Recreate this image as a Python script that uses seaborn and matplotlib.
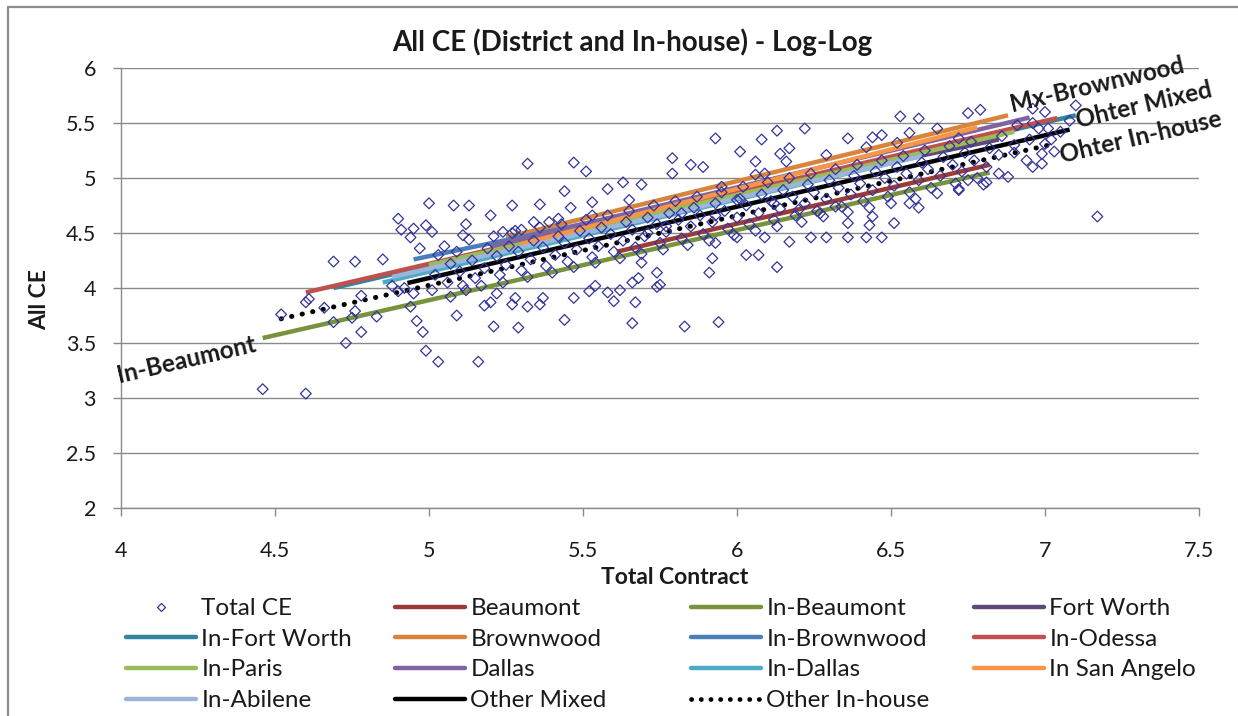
import matplotlib
matplotlib.use("Agg")
import matplotlib.pyplot as plt
from matplotlib.lines import Line2D
import seaborn as sns
import pandas as pd

# ---------------------------------------------------------------- data
# Observed projects: log10(total contract) vs log10(all CE)
total_contract = [
    4.46, 4.60, 4.52, 4.60, 4.61, 4.66, 4.69, 4.73, 4.75, 4.76, 4.78, 4.78, 4.83, 4.88,
    4.90, 4.92, 4.94, 4.95, 4.96, 4.98, 4.99, 5.03, 5.16, 5.09, 5.07, 5.12, 5.18, 5.20,
    5.21, 5.22, 5.27, 5.29, 5.28, 5.32, 5.36, 5.37, 5.44, 5.47, 5.52, 5.54, 5.58, 5.60,
    5.67, 5.66, 5.74, 5.83, 5.94,
    4.69, 4.76, 4.85, 4.90, 4.91, 4.94, 4.95, 4.99, 5.00, 5.01, 5.08, 5.13, 5.20, 5.27,
    5.32, 5.47, 5.51, 5.44, 5.53, 5.58, 5.36, 5.46, 4.97, 5.12, 5.11, 5.24, 5.27, 5.30,
    5.34, 5.39, 5.42, 5.53,
    5.93, 6.22, 6.13, 6.08, 6.53, 6.59, 6.75, 6.79, 7.10, 6.96, 7.17, 5.79, 5.85, 5.89,
    6.01, 6.06, 6.14, 6.17, 6.36, 6.44, 6.47, 6.56, 6.65, 6.85, 6.88, 6.96, 6.99, 7.03,
    6.99,
    6.42, 6.47, 6.36, 6.29, 6.24, 6.17, 6.13, 6.07, 6.03, 5.92, 5.91, 5.75, 5.68, 5.66,
    5.62, 5.93, 6.00, 6.09, 6.81, 6.72, 6.75, 6.56, 6.59, 6.51, 6.44, 6.43, 6.36, 6.32,
    6.27, 6.20, 6.12, 6.00, 5.93, 5.82, 5.77, 5.71, 5.69, 5.74, 5.63, 5.69, 5.65, 5.79,
    5.95, 6.06, 6.09, 6.16, 6.29, 6.42, 6.52, 6.72, 6.90, 6.94,
    7.02, 7.05, 7.08, 6.98, 7.00,
    5.02, 5.03, 5.01, 5.06, 5.07, 5.05, 5.10, 5.11, 5.09, 5.14, 5.15, 5.13, 5.18, 5.19,
    5.17, 5.22, 5.23, 5.21, 5.25, 5.26, 5.24, 5.29, 5.30, 5.28, 5.33, 5.34, 5.32, 5.37,
    5.38, 5.36, 5.41, 5.42, 5.40, 5.44, 5.45, 5.43, 5.48, 5.49, 5.47, 5.52, 5.53, 5.51,
    5.55, 5.56, 5.54, 5.59, 5.60, 5.58, 5.63, 5.64, 5.62, 5.66, 5.67, 5.65, 5.70, 5.71,
    5.69, 5.74, 5.75, 5.73, 5.77, 5.78, 5.76, 5.81, 5.82, 5.80, 5.85, 5.86, 5.84, 5.88,
    5.89, 5.87, 5.92, 5.93, 5.91, 5.96, 5.97, 5.95, 6.00, 6.01, 5.99, 6.03, 6.04, 6.02,
    6.07, 6.08, 6.06, 6.11, 6.12, 6.10, 6.14, 6.15, 6.13, 6.18, 6.19, 6.17, 6.22, 6.23,
    6.21, 6.25, 6.26, 6.24, 6.29, 6.30, 6.28, 6.33, 6.34, 6.32, 6.37, 6.38, 6.36, 6.40,
    6.41, 6.39, 6.44, 6.45, 6.43, 6.48, 6.49, 6.47, 6.51, 6.52, 6.50, 6.55, 6.56, 6.54,
    6.59, 6.60, 6.58, 6.62, 6.63, 6.61, 6.66, 6.67, 6.65, 6.70, 6.71, 6.69, 6.73, 6.74,
    6.72, 6.77, 6.78, 6.76, 6.81, 6.82, 6.80, 6.85, 6.86, 6.90, 6.91, 6.95, 6.96, 7.00,
    7.01,
]
total_ce = [
    3.08, 3.04, 3.76, 3.87, 3.90, 3.82, 3.69, 3.50, 3.73, 3.79, 3.60, 3.93, 3.74, 4.02,
    3.97, 4.00, 3.83, 3.95, 3.70, 3.60, 3.43, 3.33, 3.33, 3.75, 3.92, 3.98, 3.84, 3.87,
    3.65, 3.95, 3.85, 3.64, 3.91, 3.83, 3.85, 3.91, 3.71, 3.91, 3.97, 4.02, 3.96, 3.88,
    3.87, 3.68, 4.01, 3.65, 3.69,
    4.24, 4.24, 4.26, 4.63, 4.53, 4.46, 4.54, 4.57, 4.77, 4.51, 4.75, 4.75, 4.66, 4.75,
    5.13, 5.14, 5.06, 4.88, 4.78, 4.90, 4.76, 4.73, 4.36, 4.58, 4.48, 4.51, 4.50, 4.53,
    4.60, 4.60, 4.63, 4.66,
    5.36, 5.45, 5.43, 5.35, 5.56, 5.54, 5.59, 5.62, 5.66, 5.63, 4.65, 5.18, 5.12, 5.10,
    5.24, 5.15, 5.22, 5.27, 5.36, 5.37, 5.39, 5.41, 5.45, 5.04, 5.01, 5.10, 5.13, 5.24,
    5.22,
    4.46, 4.46, 4.46, 4.46, 4.46, 4.42, 4.19, 4.30, 4.30, 4.27, 4.14, 4.03, 4.09, 4.05,
    3.98, 4.41, 4.46, 4.46, 4.96, 4.89, 4.98, 4.77, 4.73, 4.59, 4.65, 4.57, 4.59, 4.74,
    4.68, 4.71, 4.77, 4.80, 4.66, 4.68, 4.56, 4.50, 4.23, 4.14, 4.96, 4.94, 4.80, 5.04,
    4.92, 5.03, 5.04, 5.15, 5.21, 5.28, 5.32, 5.36, 5.23, 5.16,
    5.35, 5.42, 5.52, 5.45, 5.60,
    4.12, 4.30, 3.98, 4.05, 4.22, 4.38, 4.15, 4.02, 4.33, 4.25, 4.09, 4.44, 4.18, 4.36,
    4.02, 4.29, 4.12, 4.47, 4.21, 4.38, 4.05, 4.33, 4.16, 4.52, 4.26, 4.43, 4.10, 4.37,
    4.20, 4.55, 4.30, 4.47, 4.14, 4.41, 4.24, 4.58, 4.35, 4.52, 4.19, 4.45, 4.28, 4.62,
    4.38, 4.55, 4.23, 4.49, 4.33, 4.66, 4.43, 4.60, 4.27, 4.53, 4.37, 4.70, 4.47, 4.64,
    4.31, 4.58, 4.41, 4.75, 4.51, 4.68, 4.35, 4.62, 4.45, 4.79, 4.56, 4.73, 4.39, 4.66,
    4.49, 4.83, 4.60, 4.77, 4.43, 4.70, 4.54, 4.87, 4.64, 4.81, 4.48, 4.75, 4.58, 4.92,
    4.68, 4.85, 4.52, 4.79, 4.62, 4.96, 4.72, 4.89, 4.56, 4.83, 4.66, 5.00, 4.77, 4.94,
    4.60, 4.87, 4.70, 5.04, 4.81, 4.98, 4.65, 4.91, 4.74, 5.08, 4.85, 5.02, 4.69, 4.95,
    4.79, 5.12, 4.89, 5.06, 4.73, 5.00, 4.83, 5.16, 4.93, 5.10, 4.77, 5.04, 4.87, 5.20,
    4.98, 5.14, 4.81, 5.08, 4.91, 5.25, 5.02, 5.19, 4.86, 5.12, 4.95, 5.29, 5.06, 5.23,
    4.90, 5.16, 5.00, 5.33, 5.10, 5.27, 4.94, 5.21, 5.38, 5.30, 5.48, 5.35, 5.50, 5.31,
    5.45,
]

# Fitted log-log trend lines, one per district / in-house group
line_names = [
    "Beaumont", "In-Beaumont", "Fort Worth", "In-Fort Worth", "Brownwood",
    "In-Brownwood", "In-Odessa", "In-Paris", "Dallas", "In-Dallas",
    "In San Angelo", "In-Abilene", "Other Mixed", "Other In-house",
]
line_x0 = [5.61, 4.46, 5.30, 4.69, 5.25, 4.95, 4.60, 5.00, 5.20, 4.85, 5.30, 4.88, 4.93, 4.52]
line_x1 = [6.82, 6.82, 6.85, 7.10, 6.88, 6.30, 7.04, 6.90, 6.95, 6.60, 6.78, 6.60, 7.08, 7.03]
line_y0 = [4.33, 3.545, 4.45, 4.00, 4.46, 4.26, 3.96, 4.21, 4.38, 4.05, 4.40, 4.10, 4.045, 3.72]
line_y1 = [5.12, 5.05, 5.35, 5.57, 5.57, 5.05, 5.545, 5.42, 5.55, 5.20, 5.46, 5.20, 5.44, 5.31]
line_colors = [
    "#9C3A37", "#77933C", "#5F497A", "#31859C", "#D8843C",
    "#4A7EBB", "#C0504D", "#9BBB59", "#8064A2", "#4BACC6",
    "#F79646", "#9DB5D8", "#000000", "#000000",
]

x_ticks = [4, 4.5, 5, 5.5, 6, 6.5, 7, 7.5]
x_tick_labels = ["4", "4.5", "5", "5.5", "6", "6.5", "7", "7.5"]
y_ticks = [2, 2.5, 3, 3.5, 4, 4.5, 5, 5.5, 6]
y_tick_labels = ["2", "2.5", "3", "3.5", "4", "4.5", "5", "5.5", "6"]

# ---------------------------------------------------------------- style
sns.set_theme(style="white")
plt.rcParams["font.family"] = ["Lato", "DejaVu Sans"]
TXT = "#1a1a1a"
GRID = "#8a8a8a"
POINT = "#34349A"

W, H = 1238, 716
fig = plt.figure(figsize=(W / 100, H / 100), dpi=100)
fig.patch.set_facecolor("white")
ax = fig.add_axes([121 / W, 1 - 508 / H, (1199 - 121) / W, (508 - 68) / H])

# trend lines
for i, name in enumerate(line_names):
    seg = pd.DataFrame({"x": [line_x0[i], line_x1[i]], "y": [line_y0[i], line_y1[i]]})
    dotted = name == "Other In-house"
    sns.lineplot(
        data=seg, x="x", y="y", ax=ax, color=line_colors[i],
        linewidth=3.6 if dotted else 3.2,
        linestyle=(0, (0.05, 2.1)) if dotted else "-",
        dash_capstyle="round", solid_capstyle="butt",
        legend=False, zorder=2 + i * 0.01,
    )

# observations
pts = pd.DataFrame({"Total Contract": total_contract, "All CE": total_ce})
sns.scatterplot(
    data=pts, x="Total Contract", y="All CE", ax=ax, marker="D", s=30,
    facecolor="none", edgecolor=POINT, linewidth=0.9, zorder=4, legend=False,
)

# axes
ax.set_xlim(4, 7.5)
ax.set_ylim(2, 6)
ax.set_xticks(x_ticks)
ax.set_xticklabels(x_tick_labels)
ax.set_yticks(y_ticks)
ax.set_yticklabels(y_tick_labels)
ax.set_xlabel("")
ax.set_ylabel("")
ax.yaxis.grid(True, color=GRID, linewidth=1.0)
ax.xaxis.grid(False)
ax.set_axisbelow(True)
for side in ("top", "right"):
    ax.spines[side].set_visible(False)
for side in ("left", "bottom"):
    ax.spines[side].set_color(GRID)
    ax.spines[side].set_linewidth(1.0)
ax.tick_params(axis="x", direction="out", length=6, width=1, color=GRID,
               pad=18, labelsize=15.5, labelcolor=TXT, bottom=True)
ax.tick_params(axis="y", direction="out", length=6, width=1, color=GRID,
               pad=12, labelsize=15.5, labelcolor=TXT, left=True)

# texts
fig.text(632 / W, 1 - 42 / H, "All CE (District and In-house) - Log-Log",
         ha="center", va="center", fontsize=20, fontweight="bold", color=TXT)
fig.text(675 / W, 1 - 578 / H, "Total Contract", ha="center", va="center",
         fontsize=16.5, fontweight="bold", color=TXT)
fig.text(40 / W, 1 - 300 / H, "All CE", ha="center", va="center", rotation=90,
         fontsize=16.5, fontweight="bold", color=TXT)

for label, lx, ly in [("Mx-Brownwood", 7.17, 5.845), ("Ohter Mixed", 7.32, 5.665),
                      ("Ohter In-house", 7.31, 5.37), ("In-Beaumont", 4.214, 3.345)]:
    ax.text(lx, ly, label, ha="center", va="center", rotation=13,
            rotation_mode="anchor", fontsize=17.5, fontweight="bold", color=TXT,
            clip_on=False, zorder=6)

# legend, filled row by row in four columns
handles = {"Total CE": Line2D([], [], marker="D", linestyle="none", markersize=4.5,
                              markerfacecolor="none", markeredgecolor=POINT,
                              markeredgewidth=0.9)}
for i, name in enumerate(line_names):
    if name == "Other In-house":
        handles[name] = Line2D([], [], color="#000000", linewidth=3.4,
                               linestyle=(0, (0.05, 2.0)), dash_capstyle="round")
    else:
        handles[name] = Line2D([], [], color=line_colors[i], linewidth=3.2)

order = ["Total CE"] + line_names
columns = [order[c::4] for c in range(4)]
col_x = [126, 395, 691, 974]
for cx, names in zip(col_x, columns):
    leg = fig.legend(
        [handles[n] for n in names], names, loc="upper left",
        bbox_to_anchor=(cx / W, 1 - 598 / H), bbox_transform=fig.transFigure,
        frameon=False, fontsize=17.5, handlelength=2.9, handletextpad=0.2,
        labelspacing=0.40, borderpad=0, borderaxespad=0,
    )
    for t in leg.get_texts():
        t.set_color(TXT)

# chart-area border (left and top edges)
fig.add_artist(Line2D([8 / W, 1], [1 - 7 / H, 1 - 7 / H], transform=fig.transFigure,
                      color="#8c8c8c", linewidth=1.6))
fig.add_artist(Line2D([8 / W, 8 / W], [0, 1 - 7 / H], transform=fig.transFigure,
                      color="#8c8c8c", linewidth=1.6))

fig.savefig("out.png", dpi=100, facecolor="white")
